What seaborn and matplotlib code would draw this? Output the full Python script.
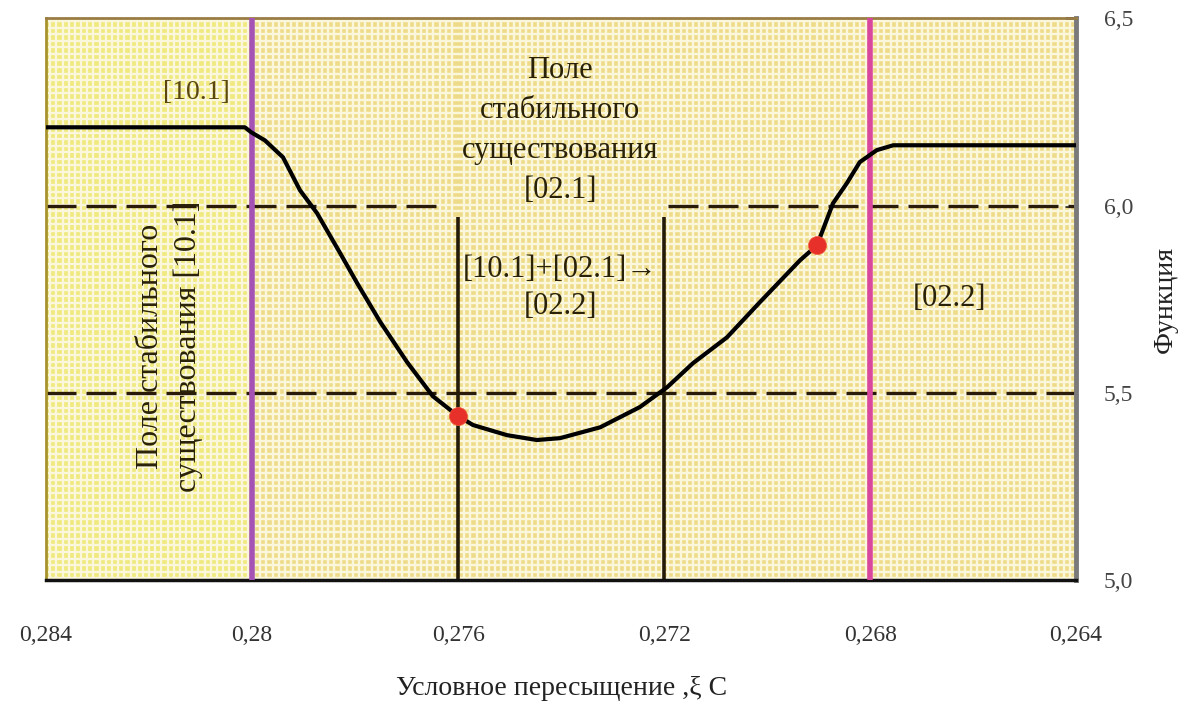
import numpy as np
import pandas as pd
import matplotlib
matplotlib.use("Agg")
import matplotlib.pyplot as plt
from matplotlib.ticker import FixedLocator, MultipleLocator
import seaborn as sns

# ---- data ----
supersat = [0.2840, 0.2820, 0.28014, 0.28002, 0.27975, 0.27940, 0.27907, 0.27874,
            0.27829, 0.27796, 0.27751, 0.27699, 0.27649, 0.27600, 0.27571, 0.27505,
            0.27447, 0.27402, 0.27324, 0.27247, 0.27194, 0.27144, 0.27078, 0.27014,
            0.26936, 0.26903, 0.26872, 0.26845, 0.26820, 0.26787, 0.26755, 0.2660,
            0.2640]
func_val = [6.209, 6.209, 6.209, 6.196, 6.174, 6.129, 6.041, 5.980,
            5.873, 5.793, 5.689, 5.582, 5.491, 5.438, 5.414, 5.387,
            5.374, 5.379, 5.408, 5.462, 5.515, 5.579, 5.648, 5.742,
            5.854, 5.894, 6.006, 6.060, 6.116, 6.148, 6.161, 6.161,
            6.161]
marker_x = [0.27600, 0.26903]
marker_y = [5.438, 5.894]

x_ticks = [0.284, 0.280, 0.276, 0.272, 0.268, 0.264]
x_tick_labels = ["0,284", "0,28", "0,276", "0,272", "0,268", "0,264"]
y_ticks = [5.0, 5.5, 6.0, 6.5]
y_tick_labels = ["5,0", "5,5", "6,0", "6,5"]

phase_bounds = [0.280, 0.268]          # magenta lines
phase_colors = ["#a552b5", "#d9479f"]
mix_bounds = [0.276, 0.272]            # black vertical lines
mix_top = 5.969
dash_levels = [6.0, 5.5]
gap_6 = (0.27635, 0.27192)

x_label = "Условное пересыщение ,ξ С"
y_label = "Функция"

sns.set_theme(style="white")
plt.rcParams["font.family"] = ["Liberation Serif", "DejaVu Serif"]

df = pd.DataFrame({"x": supersat, "y": func_val})
dm = pd.DataFrame({"x": marker_x, "y": marker_y})

fig = plt.figure(figsize=(11.93, 7.04), dpi=100)
ax = fig.add_axes([0.0386, 0.176, 0.902 - 0.0386, 0.974 - 0.176])
ax.set_facecolor("#eedb8a")
ax.set_xlim(0.284, 0.264)
ax.set_ylim(5.0, 6.5)

# left region slightly more yellow
ax.axvspan(0.284, phase_bounds[0], color="#f0e97e", zorder=0, lw=0)

# texture grid
ax.xaxis.set_minor_locator(MultipleLocator(0.00012))
ax.yaxis.set_minor_locator(MultipleLocator(0.0175))
ax.grid(which="minor", color="#fbf7dc", lw=1.7, zorder=0.5)
ax.grid(which="major", visible=False)
ax.set_axisbelow(True)
ax.tick_params(which="minor", length=0)

# dashed horizontal reference lines
ls = (0, (9, 3))
ax.hlines(dash_levels[1], 0.284, 0.264, colors="#2a1a08", lw=2.4,
          linestyles=ls, zorder=2)
ax.hlines(dash_levels[0], 0.284, gap_6[0], colors="#2a1a08", lw=2.4,
          linestyles=ls, zorder=2)
ax.hlines(dash_levels[0], gap_6[1], 0.264, colors="#2a1a08", lw=2.4,
          linestyles=ls, zorder=2)

# vertical lines
for xb in mix_bounds:
    ax.vlines(xb, 5.0, mix_top, colors="#231a08", lw=2.6, zorder=2)
for xb, c in zip(phase_bounds, phase_colors):
    ax.axvline(xb, color=c, lw=4, zorder=3)

# curve and markers
sns.lineplot(data=df, x="x", y="y", ax=ax, color="black", lw=3, zorder=4,
             sort=False, estimator=None)
sns.scatterplot(data=dm, x="x", y="y", ax=ax, color="#e8302a", s=170,
                marker="o", edgecolor="#f06040", linewidth=0.5, zorder=5)

# ticks
ax.xaxis.set_major_locator(FixedLocator(x_ticks))
ax.set_xticklabels(x_tick_labels, fontsize=17, color="#333333")
ax.yaxis.set_major_locator(FixedLocator(y_ticks))
ax.yaxis.tick_right()
ax.yaxis.set_label_position("right")
ax.set_yticklabels(y_tick_labels, fontsize=17, color="#444444")
ax.tick_params(axis="x", which="major", direction="in", length=6, pad=32,
               color="#333333")
ax.tick_params(axis="y", which="major", direction="in", length=8, pad=20,
               color="#222222", width=2)

ax.set_xlabel(x_label, fontsize=20, color="#222222", labelpad=22)
ax.set_ylabel(y_label, fontsize=20, color="#222222", labelpad=14)

# spines
for s in ax.spines.values():
    s.set_visible(True)
ax.spines["bottom"].set_color("#111111")
ax.spines["bottom"].set_linewidth(2.5)
ax.spines["right"].set_color("#7a7a7a")
ax.spines["right"].set_linewidth(3.5)
ax.spines["left"].set_color("#a8922e")
ax.spines["left"].set_linewidth(2)
ax.spines["top"].set_color("#9a7d45")
ax.spines["top"].set_linewidth(2)

# annotations
tc = "#2a2208"
ax.text(0.28109, 6.303, "[10.1]", fontsize=20, color="#5a4610",
        ha="center", va="center", zorder=6)
ax.text(0.27402, 6.201, "Поле\nстабильного\nсуществования\n[02.1]",
        fontsize=22, color=tc, ha="center", va="center", linespacing=1.5,
        zorder=6)
ax.text(0.27402, 5.78, "[10.1]+[02.1]→\n[02.2]", fontsize=22, color=tc,
        ha="center", va="center", linespacing=1.4, zorder=6)
ax.text(0.26645, 5.753, "[02.2]", fontsize=22, color=tc,
        ha="center", va="center", zorder=6)
ax.text(0.28160, 5.625, "Поле стабильного\nсуществования [10.1]", fontsize=23,
        color=tc, ha="center", va="center", rotation=90, linespacing=1.4,
        zorder=6)

fig.savefig("out.png", dpi=100)
